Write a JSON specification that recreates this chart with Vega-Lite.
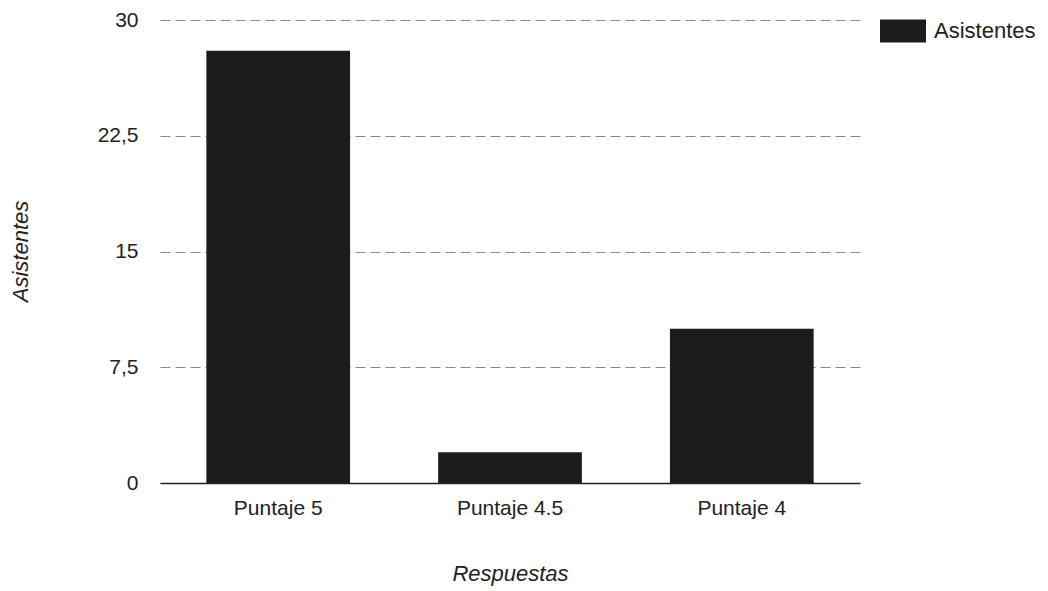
{
  "$schema": "https://vega.github.io/schema/vega-lite/v6.json",
  "autosize": "none",
  "width": 700,
  "height": 463,
  "padding": {"left": 160, "top": 20, "right": 188, "bottom": 108},
  "background": "white",
  "data": {"values": [
    {"Respuestas": "Puntaje 5", "Asistentes": 28},
    {"Respuestas": "Puntaje 4.5", "Asistentes": 2},
    {"Respuestas": "Puntaje 4", "Asistentes": 10}
  ]},
  "mark": {"type": "bar"},
  "encoding": {
    "x": {
      "field": "Respuestas", "type": "nominal", "sort": null,
      "scale": {"paddingInner": 0.38, "paddingOuter": 0.2},
      "axis": {
        "title": "Respuestas", "labelAngle": 0, "labelFontSize": 21, "labelPadding": 14,
        "ticks": false, "domainColor": "#222", "domainWidth": 1.5,
        "titleFontStyle": "italic", "titleFontWeight": "normal", "titleFontSize": 22,
        "titleY": 90, "titleBaseline": "middle", "titleColor": "#222", "labelColor": "#222"
      }
    },
    "y": {
      "field": "Asistentes", "type": "quantitative",
      "scale": {"domain": [0, 30]},
      "axis": {
        "title": "Asistentes", "values": [0, 7.5, 15, 22.5, 30],
        "labelExpr": "replace(toString(datum.value), '.', ',')",
        "labelFontSize": 21, "labelPadding": 22, "ticks": false, "domain": false,
        "grid": true, "gridDash": [10, 5], "gridColor": "#8a8a8a", "gridWidth": 1,
        "titleFontStyle": "italic", "titleFontWeight": "normal", "titleFontSize": 22,
        "titleX": -140, "titleY": 231, "titleBaseline": "middle", "titleColor": "#222", "labelColor": "#222"
      }
    },
    "color": {
      "datum": "Asistentes", "type": "nominal",
      "scale": {"range": ["#1c1c1c"]},
      "legend": {
        "title": null, "orient": "none", "legendX": 720, "legendY": -12,
        "symbolType": "M-1,-0.5H1V0.5H-1Z", "symbolSize": 2116, "symbolStrokeWidth": 0,
        "labelFontSize": 22, "labelColor": "#222", "labelOffset": 8
      }
    }
  },
  "config": {
    "font": "Liberation Sans",
    "view": {"stroke": null},
    "axis": {"gridColor": "#8a8a8a"}
  }
}
